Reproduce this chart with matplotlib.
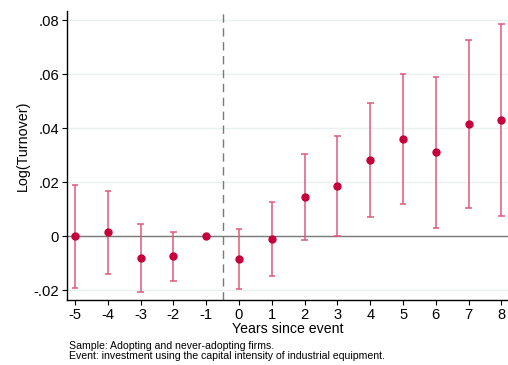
import matplotlib.pyplot as plt
import numpy as np

plt.rcParams['font.family'] = ['Liberation Sans', 'DejaVu Sans']

# event-study coefficients
years = [-5, -4, -3, -2, -1, 0, 1, 2, 3, 4, 5, 6, 7, 8]
coef = [0.0, 0.0015, -0.0080, -0.0074, 0.0, -0.0085, -0.0010, 0.0144,
        0.0187, 0.0283, 0.0360, 0.0311, 0.0415, 0.0430]
ci_hi = [0.0189, 0.0169, 0.0047, 0.0017, np.nan, 0.0028, 0.0128, 0.0305,
         0.0372, 0.0494, 0.0602, 0.0591, 0.0726, 0.0784]
ci_lo = [-0.0193, -0.0141, -0.0207, -0.0164, np.nan, -0.0196, -0.0148, -0.0015,
         0.0002, 0.0073, 0.0118, 0.0032, 0.0104, 0.0074]
yticks = [-0.02, 0, 0.02, 0.04, 0.06, 0.08]
ytick_labels = ['-.02', '0', '.02', '.04', '.06', '.08']

fig = plt.figure(figsize=(5.08, 3.65), dpi=100)
ax = fig.add_axes([0.1313, 0.178, 0.8687, 0.792])

# grid and reference lines
for v in yticks:
    ax.axhline(v, color='#eaf1f2', linewidth=1, zorder=0)
ax.axhline(0, color='#7a7a7a', linewidth=1, zorder=1)
ax.axvline(-0.5, color='#7a7a7a', linewidth=1, linestyle=(0, (6, 4)), zorder=1)

for x, lo, hi in zip(years, ci_lo, ci_hi):
    if np.isnan(lo):
        continue
    ax.vlines(x, lo, hi, color='#e0587a', linewidth=1.1, zorder=2)
    ax.hlines([lo, hi], x - 0.1, x + 0.1, color='#e0587a', linewidth=1.1, zorder=2)

ax.plot(years, coef, 'o', color='#c5003a', markersize=5, zorder=3, linestyle='none')

ax.set_xlim(-5.253, 8.2)
ax.set_ylim(-0.0236, 0.0834)
ax.set_xticks(years)
ax.set_xticklabels([str(y) for y in years], fontsize=10.6)
ax.set_yticks(yticks)
ax.set_yticklabels(ytick_labels, fontsize=10.6)
ax.tick_params(direction='out', length=3.6, width=0.8, pad=2)

for side in ['top', 'right']:
    ax.spines[side].set_visible(False)
for side in ['left', 'bottom']:
    ax.spines[side].set_linewidth(1)

ax.set_xlabel('Years since event', fontsize=10.2)
ax.xaxis.set_label_coords(0.5, -0.075)
ax.set_ylabel('Log(Turnover)', fontsize=10.3)
ax.yaxis.set_label_coords(-0.084, 0.535)

fig.text(0.136, 0.012, 'Sample: Adopting and never-adopting firms.\n'
         'Event: investment using the capital intensity of industrial equipment.',
         fontsize=7.6, linespacing=0.92, va='bottom')

fig.savefig('out.png', dpi=100)
